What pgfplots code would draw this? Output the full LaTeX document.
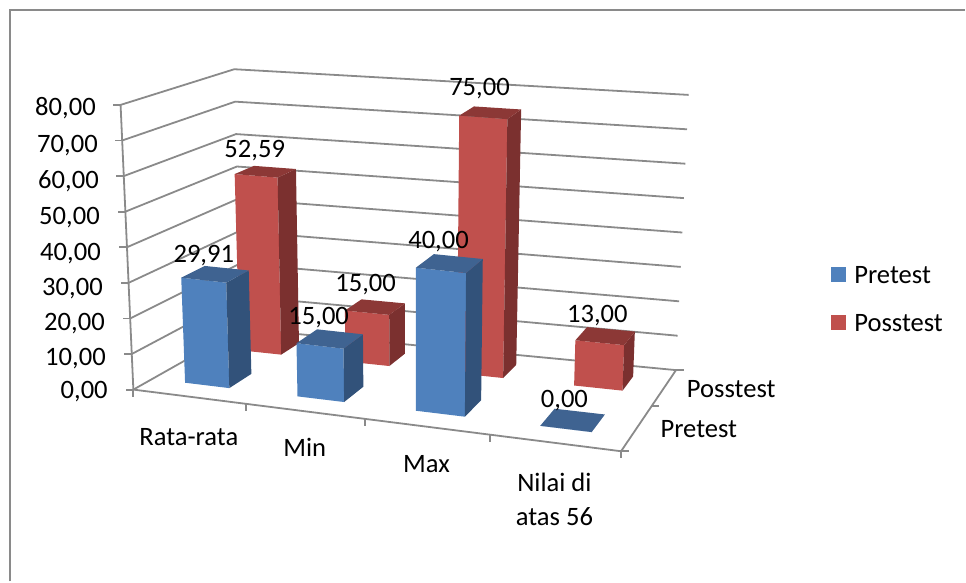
\documentclass[border=0pt]{standalone}
\usepackage{fontspec}
\setmainfont{Carlito}
\usepackage{pgfplots}
\usepackage{pgfplotstable}
\pgfplotsset{compat=1.18}

\definecolor{bluefront}{HTML}{4F81BD}
\definecolor{blueside}{HTML}{32527A}
\definecolor{bluetop}{HTML}{3F6391}
\definecolor{redfront}{HTML}{C0504D}
\definecolor{redside}{HTML}{7B302F}
\definecolor{redtop}{HTML}{8C3836}
\definecolor{gridgray}{HTML}{8A8A8A}

% faces of a unit box
\pgfplotstableread{
a b c
0 0 0
1 0 0
1 0 1
0 0 1
}\frontface
\pgfplotstableread{
a b c
1 0 0
1 1 0
1 1 1
1 0 1
}\sideface
\pgfplotstableread{
a b c
0 0 1
1 0 1
1 1 1
0 1 1
}\topface
\pgfplotstableread{
a b
0 0
0 2
4 2
}\wall

% #1 category, #2 row (0 Pretest, 1 Posstest), #3 value, #4 front, #5 side, #6 top
\newcommand{\barfaces}[6]{%
  \addplot[fill=#4,draw=none,forget plot] table[
    x expr={PX(#1+0.3+0.4*\thisrow{a},#2+0.3+0.4*\thisrow{b},#3*\thisrow{c})},
    y expr={PY(#1+0.3+0.4*\thisrow{a},#2+0.3+0.4*\thisrow{b},#3*\thisrow{c})}] {\frontface} --cycle;
  \addplot[fill=#5,draw=none,forget plot] table[
    x expr={PX(#1+0.3+0.4*\thisrow{a},#2+0.3+0.4*\thisrow{b},#3*\thisrow{c})},
    y expr={PY(#1+0.3+0.4*\thisrow{a},#2+0.3+0.4*\thisrow{b},#3*\thisrow{c})}] {\sideface} --cycle;
  \addplot[fill=#6,draw=none,forget plot] table[
    x expr={PX(#1+0.3+0.4*\thisrow{a},#2+0.3+0.4*\thisrow{b},#3*\thisrow{c})},
    y expr={PY(#1+0.3+0.4*\thisrow{a},#2+0.3+0.4*\thisrow{b},#3*\thisrow{c})}] {\topface} --cycle;
}

\begin{document}
\begin{tikzpicture}[
  declare function={
    lerp(\a,\b,\t)=\a+(\b-\a)*\t;
    wu(\i)=\i/4+0.1*(\i/4)*(\i/4-1);
    wd(\r)=\r/2+0.216*(\r/2)*(1-\r/2);
    FX(\t,\h)=lerp(lerp(133.5,621.7,\t),lerp(120.7,631,\t),\h);
    BX(\t,\h)=lerp(lerp(241.6,676.7,\t),lerp(234.5,689.3,\t),\h);
    FY(\t,\h)=lerp(lerp(390,451.7,\t),lerp(105,157,\t),\h);
    BY(\t,\h)=lerp(lerp(329,370.5,\t),lerp(69.3,95,\t),\h);
    PX(\i,\r,\v)=lerp(FX(wu(\i),\v/80),BX(wu(\i),\v/80),wd(\r));
    PY(\i,\r,\v)=lerp(FY(wu(\i),\v/80),BY(wu(\i),\v/80),wd(\r));
  },
  every node/.style={font=\fontsize{26.6bp}{34bp}\selectfont,inner sep=0pt,text=black},
]
\begin{axis}[
  hide axis, scale only axis, clip=false,
  width=966bp, height=582bp,
  xmin=0, xmax=966, ymin=0, ymax=582, y dir=reverse,
]
% frame
\addplot[gridgray,line width=2bp,forget plot] coordinates {(10,582) (10,10.3) (966,10.3)};

% walls and floor
\pgfplotsinvokeforeach{0,10,...,80}{
  \addplot[gridgray,line width=1.8bp,forget plot] table[
    x expr={PX(\thisrow{a},\thisrow{b},#1)},
    y expr={PY(\thisrow{a},\thisrow{b},#1)}] {\wall};
  \draw[gridgray,line width=1.8bp] (axis cs:{PX(0,0,#1)},{PY(0,0,#1)}) -- (axis cs:{PX(0,0,#1)-7.5},{PY(0,0,#1)});
}
\addplot[gridgray,line width=1.8bp,forget plot] coordinates {(120.7,105) (133.5,390) (621.7,451.7) (676.7,370.5)};
\pgfplotsinvokeforeach{0,1,2,3,4}{
  \draw[gridgray,line width=1.8bp] (axis cs:{PX(#1,0,0)},{PY(#1,0,0)}) -- (axis cs:{PX(#1,0,0)},{PY(#1,0,0)+7});
}
\pgfplotsinvokeforeach{0,1,2}{
  \draw[gridgray,line width=1.8bp] (axis cs:{PX(4,#1,0)},{PY(4,#1,0)}) -- (axis cs:{PX(4,#1,0)+7.5},{PY(4,#1,0)});
}

% Posstest row, then Pretest row in front of it
\barfaces{0}{1}{52.59}{redfront}{redside}{redtop}
\barfaces{1}{1}{15}{redfront}{redside}{redtop}
\barfaces{2}{1}{75}{redfront}{redside}{redtop}
\barfaces{3}{1}{13}{redfront}{redside}{redtop}
\barfaces{0}{0}{29.91}{bluefront}{blueside}{bluetop}
\barfaces{1}{0}{15}{bluefront}{blueside}{bluetop}
\barfaces{2}{0}{40}{bluefront}{blueside}{bluetop}
\barfaces{3}{0}{0}{bluefront}{blueside}{bluetop}

% value axis labels
\node[anchor=east] at (axis cs:96,108.5) {80,00};
\node[anchor=east] at (axis cs:98,145.5) {70,00};
\node[anchor=east] at (axis cs:99,181.5) {60,00};
\node[anchor=east] at (axis cs:100,217.5) {50,00};
\node[anchor=east] at (axis cs:101,253.5) {40,00};
\node[anchor=east] at (axis cs:103,288.5) {30,00};
\node[anchor=east] at (axis cs:105,323.5) {20,00};
\node[anchor=east] at (axis cs:106,358.5) {10,00};
\node[anchor=east] at (axis cs:108,391.5) {0,00};

% data labels
\node at (axis cs:204,255.5) {29,91};
\node at (axis cs:255,150.5) {52,59};
\node at (axis cs:319,317.5) {15,00};
\node at (axis cs:366,284.5) {15,00};
\node at (axis cs:439,241.5) {40,00};
\node at (axis cs:480,88.5) {75,00};
\node at (axis cs:565,400.5) {0,00};
\node at (axis cs:598,315.5) {13,00};

% category labels
\node at (axis cs:189,438) {Rata-rata};
\node at (axis cs:305,448) {Min};
\node at (axis cs:427,465) {Max};
\node[align=center] at (axis cs:555,500) {Nilai di\\atas 56};
\node at (axis cs:699.5,430) {Pretest};
\node at (axis cs:732,389) {Posstest};

% legend
\fill[bluefront] (axis cs:832,267.3) rectangle (axis cs:846.7,282);
\fill[redfront] (axis cs:832,315) rectangle (axis cs:846.7,330);
\node[anchor=west] at (axis cs:855,275) {Pretest};
\node[anchor=west] at (axis cs:855,323) {Posstest};
\end{axis}
\path (current axis.south west) rectangle (current axis.north east);
\end{tikzpicture}
\end{document}
